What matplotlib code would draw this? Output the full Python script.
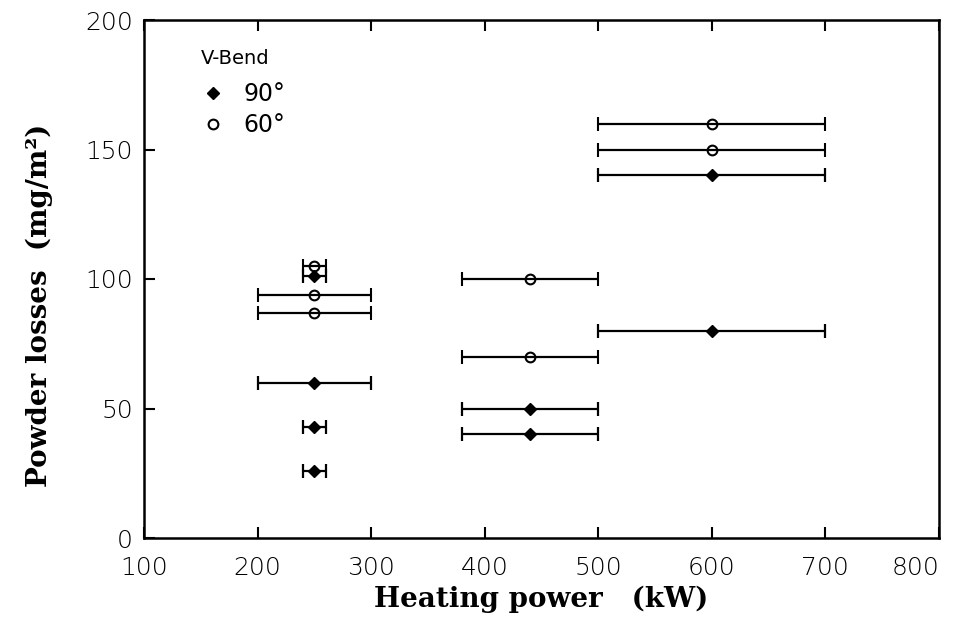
import numpy as np
import matplotlib.pyplot as plt
from matplotlib.lines import Line2D

# V-Bend 90 grader (pontos cheios)
x90 = [250, 250, 250, 250, 440, 440, 600, 600]
y90 = [26, 43, 60, 101, 50, 40, 140, 80]
xerr90 = [10, 10, 50, 10, 60, 60, 100, 100]

# V-Bend 60 grader (pontos abertos)
x60 = [250, 250, 250, 440, 440, 600, 600]
y60 = [87, 94, 105, 100, 70, 160, 150]
xerr60 = [50, 50, 10, 60, 60, 100, 100]

xticks = [100, 200, 300, 400, 500, 600, 700, 800]
yticks = [0, 50, 100, 150, 200]

fig = plt.figure(figsize=(9.62, 6.25), dpi=100)
ax = fig.add_axes([0.1497, 0.1392, 0.8264, 0.8288])

ax.errorbar(x90, y90, xerr=xerr90, fmt='D', color='black', markersize=6,
            ecolor='black', elinewidth=1.6, capsize=5, capthick=1.6)
ax.errorbar(x60, y60, xerr=xerr60, fmt='o', color='black', markersize=7,
            markerfacecolor='none', markeredgewidth=1.5,
            ecolor='black', elinewidth=1.6, capsize=5, capthick=1.6)

ax.set_xlim(100, 800)
ax.set_ylim(0, 200)
ax.set_xticks(xticks)
ax.set_yticks(yticks)
ax.tick_params(direction='in', length=8, width=1.5, top=True, right=False,
               labelsize=18)
ax.tick_params(axis='x', pad=13)
ax.tick_params(axis='y', pad=8)
for lab in ax.get_xticklabels() + ax.get_yticklabels():
    lab.set_family('DejaVu Sans')
    lab.set_fontweight('light')
# o ultimo rotulo fica um pouco para a esquerda, como no original
ax.get_xticklabels()[-1].set_horizontalalignment('right')
ax.get_xticklabels()[-1].set_x(800)
for s in ax.spines.values():
    s.set_linewidth(1.8)

ax.set_xlabel('Heating power   (kW)', family='DejaVu Serif', fontweight='bold',
              fontsize=20, labelpad=4)
ax.set_ylabel('Powder losses  (mg/m²)', family='DejaVu Serif', fontweight='bold',
              fontsize=20)
ax.yaxis.set_label_coords(-0.115, 0.45)

# legenda
handles = [Line2D([], [], marker='D', color='black', linestyle='none', markersize=6),
           Line2D([], [], marker='o', color='black', linestyle='none', markersize=7,
                  markerfacecolor='none', markeredgewidth=1.5)]
leg = ax.legend(handles, ['90°', '60°'], title='V-Bend', loc='upper left',
                bbox_to_anchor=(0.045, 0.985), frameon=False, fontsize=17,
                title_fontsize=14, handlelength=1.0, handletextpad=0.8,
                labelspacing=0.3)
leg._legend_box.align = 'left'
leg._legend_box.sep = 10

fig.savefig('out.png', dpi=100)
